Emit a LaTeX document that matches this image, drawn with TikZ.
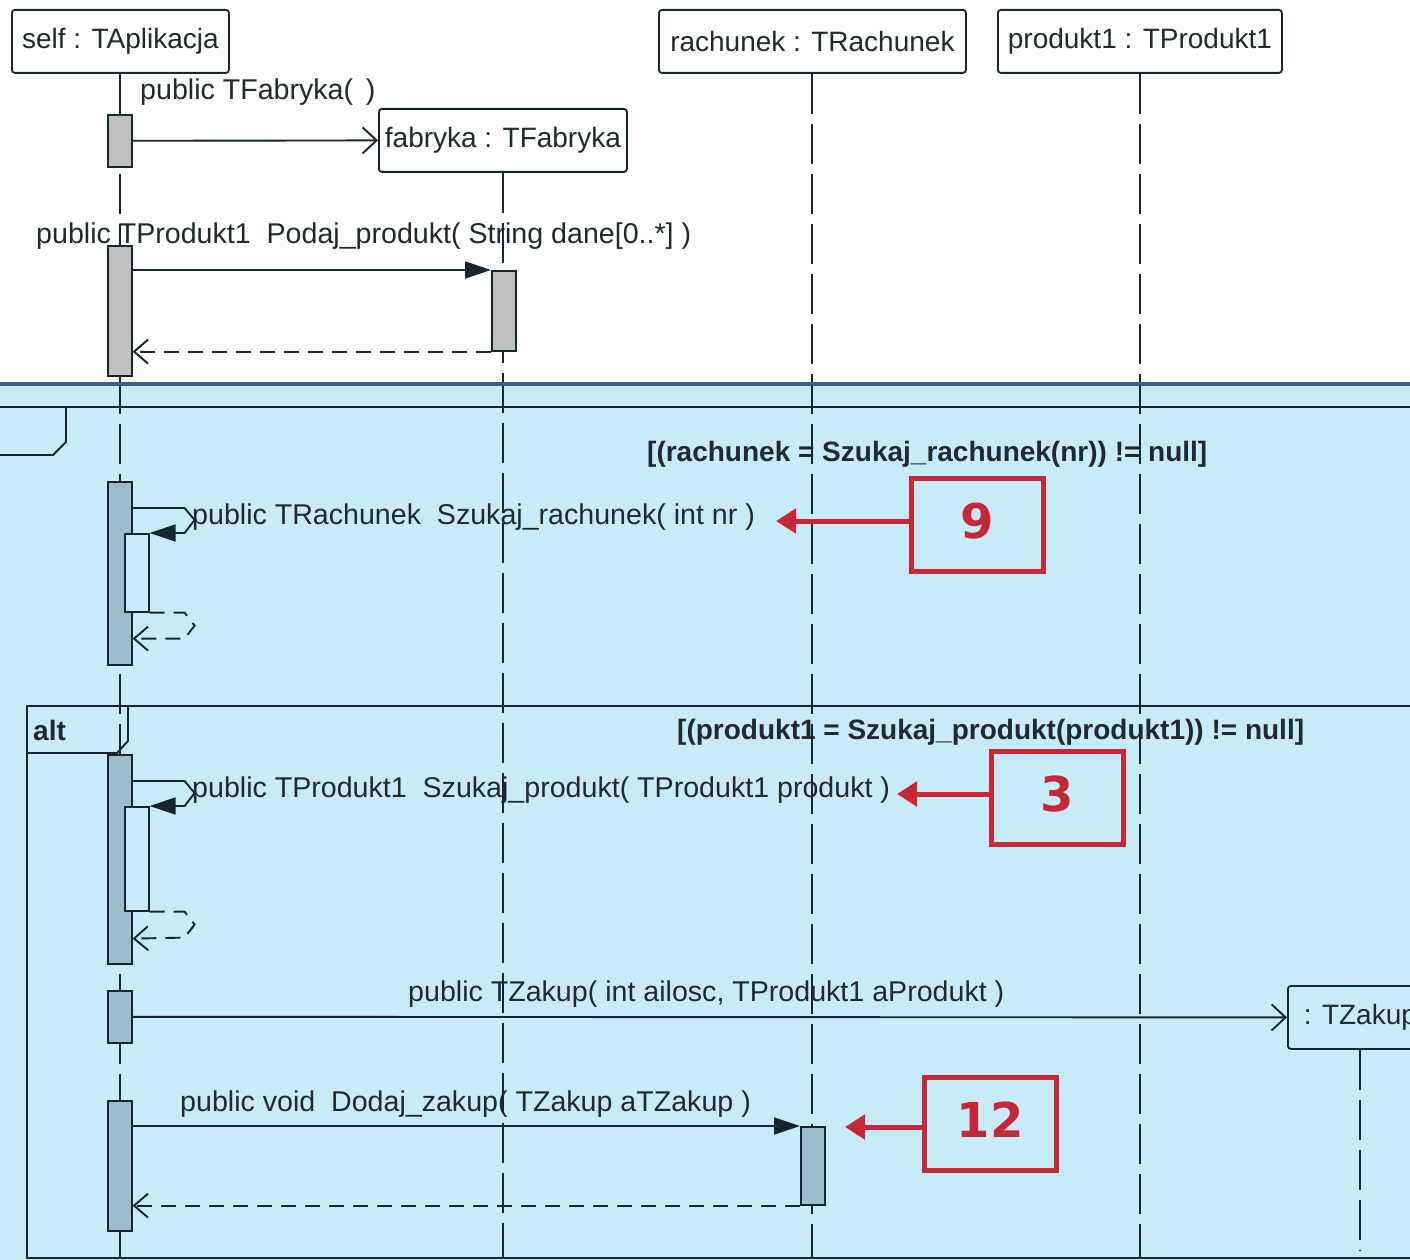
\documentclass[tikz,border=0pt]{standalone}
\usepackage{fontspec}
\setmainfont{Liberation Sans}
\newfontfamily\numfont{DejaVu Sans}
\usetikzlibrary{arrows.meta,calc}
\definecolor{bgblue}{HTML}{C8EBF9}
\definecolor{ink}{HTML}{15262F}
\definecolor{txt}{HTML}{1E2A30}
\definecolor{actgray}{HTML}{C0C0C0}
\definecolor{actblue}{HTML}{9BBDCC}
\definecolor{sepblue}{HTML}{3B5B8B}
\definecolor{markred}{HTML}{C62838}
\begin{document}
\begin{tikzpicture}[x=1pt,y=-1pt,
  every node/.style={font=\fontsize{28}{30}\selectfont, inner sep=0pt, text=txt},
  lifebox/.style={draw=ink, line width=1.8pt, rounded corners=3pt, fill=white,
    minimum height=63pt, anchor=north west},
  act/.style={draw=ink, line width=1.6pt, minimum width=24pt, anchor=north west},
  life/.style={draw=ink, line width=2pt, dash pattern=on 40pt off 10pt},
  msg/.style={draw=ink, line width=1.9pt},
  sync/.style={msg, -{Triangle[length=26pt,width=17pt]}},
  create/.style={msg, -{Straight Barb[length=14pt,width=26pt,line width=1.9pt]}},
  ret/.style={msg, dash pattern=on 15pt off 9pt, -{Straight Barb[length=14pt,width=24pt,line width=1.9pt]}},
  lbl/.style={anchor=base west, font=\fontsize{28.6}{30}\selectfont},
  guard/.style={anchor=base west, font=\bfseries\fontsize{28}{30}\selectfont},
  frameline/.style={draw=ink, line width=1.9pt},
  redbox/.style={draw=markred, line width=5pt, minimum width=132pt, minimum height=93pt,
    font=\numfont\bfseries\fontsize{48}{50}\selectfont, text=markred},
  redarr/.style={draw=markred, line width=5pt, -{Triangle[length=20pt,width=24pt]}}
]
\useasboundingbox (0,0) rectangle (1410,1260);
\clip (0,0) rectangle (1410,1260);
\fill[white] (0,0) rectangle (1410,386);
\fill[bgblue] (0,386) rectangle (1410,1260);

% lifeline heads
\node[lifebox, minimum width=217pt] (self) at (11,9) {self : TAplikacja};
\node[lifebox, minimum width=307pt] (rach) at (658,9) {rachunek : TRachunek};
\node[lifebox, minimum width=284pt] (prod) at (997,9) {produkt1 : TProdukt1};
\node[lifebox, minimum width=248pt] (fab) at (378,108) {fabryka : TFabryka};
\node[lifebox, minimum width=145pt, fill=bgblue] (zak) at (1287,985) {: TZakup};

% message labels
\node[lbl] (lf) at (140,100) {public TFabryka(\hspace{0.45em})};
\node[lbl] (lp) at (36,243) {public TProdukt1\ \ Podaj\_produkt( String dane[0..*] )};
\node[guard] (g1) at (647,461) {[(rachunek = Szukaj\_rachunek(nr)) != null]};
\node[lbl] (lr) at (192,524) {public TRachunek\ \ Szukaj\_rachunek( int nr )};
\node[guard] (alt) at (33,740) {alt};
\node[guard] (g2) at (677,739) {[(produkt1 = Szukaj\_produkt(produkt1)) != null]};
\node[lbl] (lpr) at (192,797) {public TProdukt1\ \ Szukaj\_produkt( TProdukt1 produkt )};
\node[lbl] (lz) at (408,1001) {public TZakup( int ailosc, TProdukt1 aProdukt )};
\node[lbl] (ld) at (180,1111) {public void\ \ Dodaj\_zakup( TZakup aTZakup )};

% lifelines
\coordinate (bot) at (0,1258);
\coordinate (zbot) at (0,1250);
\draw[life] (self.south) -- (self.south |- bot);
\draw[life] (rach.south) -- (rach.south |- bot);
\draw[life] (prod.south) -- (prod.south |- bot);
\draw[life] (fab.south) -- (fab.south |- bot);
\draw[life] (zak.south) -- (zak.south |- zbot);

% separator
\draw[sepblue, line width=4pt] (0,384) -- (1410,384);

% frames
\draw[frameline] (0,407) -- (1410,407);
\draw[frameline] (0,455) -- (53,455) -- (66,442) -- (66,407);
\draw[frameline] (1410,706) -- (27,706) -- (27,1258) -- (1410,1258);
\draw[frameline] (27,753) -- (117,753) -- (128,741) -- (128,706);

% activations
\node[act, fill=actgray, minimum height=52pt] (a1) at (107,114) {};
\node[act, fill=actgray, minimum height=130pt] (a2) at (107,245) {};
\node[act, fill=actgray, minimum height=80pt] (fa) at (491,270) {};
\node[act, fill=actblue, minimum height=183pt] (a3) at (107,481) {};
\node[act, fill=bgblue, minimum height=78pt] (n3) at (124,533) {};
\node[act, fill=actblue, minimum height=209pt] (a4) at (107,754) {};
\node[act, fill=bgblue, minimum height=104pt] (n4) at (124,806) {};
\node[act, fill=actblue, minimum height=52pt] (a5) at (107,990) {};
\node[act, fill=actblue, minimum height=130pt] (a6) at (107,1100) {};
\node[act, fill=actblue, minimum height=78pt] (ra) at (800,1126) {};

% messages
\draw[create] (a1.east) -- (fab.west);
\draw[sync] (a2.east |- fa.north west) -- (fa.north west);
\draw[ret] (fa.south west) -- (a2.east |- fa.south west);

\draw[sync] ($(a3.east |- n3.north)+(0,-25)$) -- ++(52,0) -- ++(10,12) -- ++(-10,13) -- (n3.north east);
\draw[ret] (n3.south east) -- ++(35,0) -- ++(10,13) -- ++(-10,13) -- ($(a3.east |- n3.south)+(0,26)$);

\draw[sync] ($(a4.east |- n4.north)+(0,-25)$) -- ++(52,0) -- ++(10,12) -- ++(-10,13) -- (n4.north east);
\draw[ret] (n4.south east) -- ++(35,0) -- ++(10,13) -- ++(-10,13) -- ($(a4.east |- n4.south)+(0,27)$);

\draw[create] (a5.east) -- (zak.west);
\draw[sync] (a6.east |- ra.north west) -- (ra.north west);
\draw[ret] (ra.south west) -- (a6.east |- ra.south west);

% red markers
\node[redbox] (m9) at (977.5,525) {\raisebox{9pt}{9}};
\node[redbox] (m3) at (1057.5,798) {\raisebox{9pt}{3}};
\node[redbox] (m12) at (990,1124) {\raisebox{8pt}{12}};
\coordinate (t9) at (776,521);
\coordinate (t3) at (897,794);
\coordinate (t12) at (845,1127);
\draw[redarr] (m9.west |- t9) -- (t9);
\draw[redarr] (m3.west |- t3) -- (t3);
\draw[redarr] (m12.west |- t12) -- (t12);
\end{tikzpicture}
\end{document}
